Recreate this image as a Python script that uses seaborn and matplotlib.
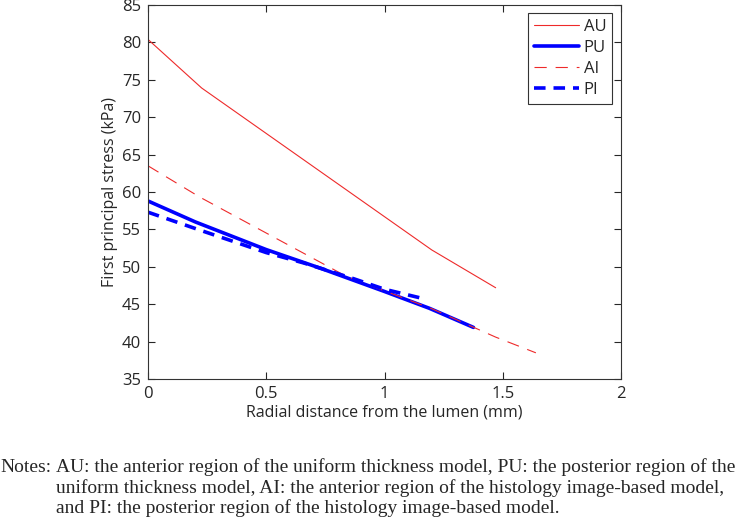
import matplotlib
matplotlib.use("Agg")
import matplotlib.pyplot as plt
import seaborn as sns

# values
au_x = [0, 0.227, 1.2, 1.47]
au_y = [80.4, 73.9, 52.25, 47.2]
pu_x = [0, 0.2, 0.5, 0.73, 1.0, 1.19, 1.376]
pu_y = [58.8, 56.0, 52.3, 49.8, 46.7, 44.45, 41.9]
ai_x = [0, 0.22, 0.84, 1.2, 1.47, 1.64]
ai_y = [63.5, 59.3, 48.7, 44.4, 40.6, 38.5]
pi_x = [0, 0.22, 0.5, 0.66, 0.87, 1.0, 1.17]
pi_y = [57.3, 54.9, 51.9, 50.5, 48.4, 47.0, 45.7]

x_ticks = [0, 0.5, 1, 1.5, 2]
y_ticks = [35, 40, 45, 50, 55, 60, 65, 70, 75, 80, 85]
notes_head = "Notes:"
notes_lines = ["AU: the anterior region of the uniform thickness model, PU: the posterior region of the",
               "uniform thickness model, AI: the anterior region of the histology image-based model,",
               "and PI: the posterior region of the histology image-based model."]

sns.set_style("ticks")
plt.rcParams['font.family'] = ['Open Sans', 'DejaVu Sans']
red = "#ee2a2a"
blue = "#0000ff"

fig = plt.figure(figsize=(7.43, 5.21), dpi=100)
ax = fig.add_axes([148 / 743, 1 - 379 / 521, (621 - 148) / 743, (379 - 5) / 521])

sns.lineplot(x=au_x, y=au_y, ax=ax, color=red, lw=0.8, label="AU", sort=False)
sns.lineplot(x=pu_x, y=pu_y, ax=ax, color=blue, lw=2.6, label="PU", sort=False)
sns.lineplot(x=ai_x, y=ai_y, ax=ax, color=red, lw=0.8, linestyle=(0, (11, 8)), label="AI", sort=False)
sns.lineplot(x=pi_x, y=pi_y, ax=ax, color=blue, lw=2.6, linestyle=(0, (3.2, 2.2)), label="PI", sort=False)

ax.set_xlim(0, 2)
ax.set_ylim(35, 85)
ax.set_xticks(x_ticks)
ax.set_xticklabels(["0", "0.5", "1", "1.5", "2"])
ax.set_yticks(y_ticks)
ax.tick_params(direction="in", top=True, right=True, labelsize=12, length=5, width=0.8, pad=5)
for s in ax.spines.values():
    s.set_linewidth(0.8)
    s.set_color("#333333")
ax.set_xlabel("Radial distance from the lumen (mm)", fontsize=11.5, labelpad=2)
ax.set_ylabel("First principal stress (kPa)", fontsize=11.5, labelpad=3)

leg = ax.legend(loc="upper right", fontsize=12, fancybox=False, framealpha=1,
                edgecolor="#333333", handlelength=2.7, handletextpad=0.3,
                labelspacing=0.3, borderpad=0.35, borderaxespad=0,
                bbox_to_anchor=(0.981, 0.979))
leg.get_frame().set_linewidth(0.8)

fig.text(52 / 743, 1 - 467 / 521, notes_head, fontsize=14, family="Liberation Serif",
         ha="right", va="center")
for i, line in enumerate(notes_lines):
    fig.text(56 / 743, 1 - (467 + 20.7 * i) / 521, line, fontsize=14,
             family="Liberation Serif", ha="left", va="center")

fig.savefig("out.png", dpi=100)
